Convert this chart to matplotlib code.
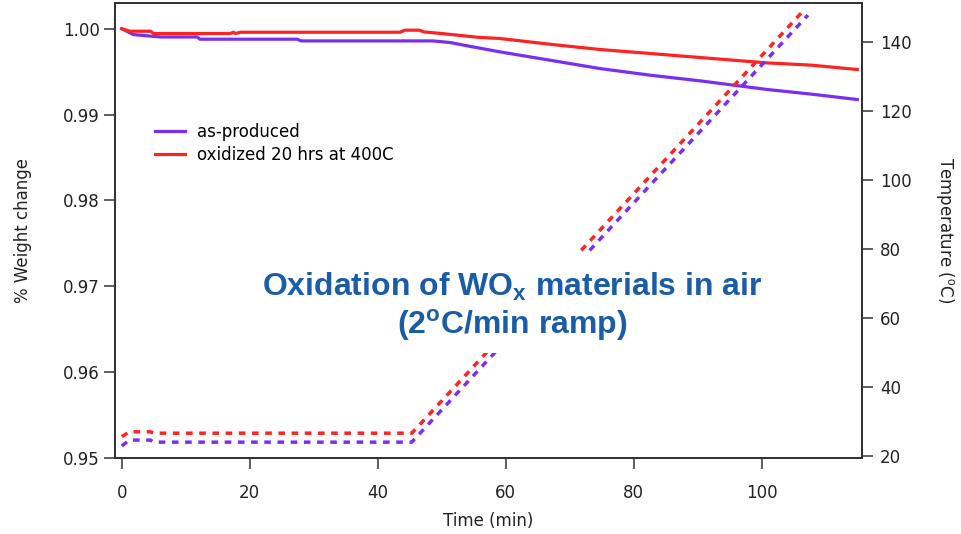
import matplotlib.pyplot as plt
from matplotlib.patches import Rectangle

plt.rcParams['font.family'] = 'DejaVu Sans'
plt.rcParams['mathtext.fontset'] = 'custom'
plt.rcParams['mathtext.rm'] = 'Liberation Sans'
plt.rcParams['mathtext.bf'] = 'Liberation Sans:bold'

# Weight curves (time in min, fractional weight)
t_asprod = [0, 1.0, 1.8, 6, 11.8, 12.2, 27.4, 28, 48.6, 51.3, 54, 59.1, 66.9,
            74.7, 82.6, 90.4, 100.8, 107.8, 114.9]
w_asprod = [1.0000, 0.99963, 0.99932, 0.99904, 0.99904, 0.99878, 0.99878, 0.99858,
            0.99858, 0.99839, 0.9980, 0.9973, 0.99633, 0.99536, 0.99458, 0.99392,
            0.99292, 0.99237, 0.99175]

t_oxid = [0, 1.3, 4.5, 5.0, 17.0, 17.4, 17.8, 18.5, 43.5, 44.2, 46.5, 47.2, 50,
          55.7, 59.1, 66.9, 74.7, 82.6, 90.4, 100.8, 107.8, 114.9]
w_oxid = [1.0000, 0.99971, 0.99971, 0.99944, 0.99944, 0.9996, 0.99944, 0.99959,
          0.99959, 0.99983, 0.99983, 0.99963, 0.99944, 0.9990, 0.99886, 0.99819,
          0.99758, 0.99711, 0.99664, 0.99602, 0.99575, 0.99525]

# Temperature curves (time in min, deg C)
tt_asprod = [0, 1.2, 4.5, 5.0, 45.3, 107.2]
temp_asprod = [22.9, 24.6, 24.6, 24.0, 24.0, 147.7]
tt_oxid = [0, 1.2, 4.5, 5.0, 45.3, 106.6]
temp_oxid = [25.6, 27.0, 27.0, 26.6, 26.6, 149.2]

purple = '#7A2EF0'
red = '#FF2222'
axis_col = '#333333'

fig = plt.figure(figsize=(9.61, 5.34), dpi=100)
ax = fig.add_axes([0.1197, 0.1429, 0.777, 0.8515])
ax2 = ax.twinx()

ax.plot(t_asprod, w_asprod, color=purple, lw=2.3, label='as-produced')
ax.plot(t_oxid, w_oxid, color=red, lw=2.3, label='oxidized 20 hrs at 400C')

ax2.plot(tt_asprod, temp_asprod, color=purple, lw=2.5, dashes=(1.9, 1.9))
ax2.plot(tt_oxid, temp_oxid, color=red, lw=2.5, dashes=(1.9, 1.9))

ax.set_xlim(-1.05, 115.6)
ax.set_ylim(0.95, 1.003)
ax2.set_ylim(19.5, 151.2)

ax.set_xticks([0, 20, 40, 60, 80, 100])
ax.set_yticks([0.95, 0.96, 0.97, 0.98, 0.99, 1.00])
ax.set_yticklabels(['0.95', '0.96', '0.97', '0.98', '0.99', '1.00'])
ax2.set_yticks([20, 40, 60, 80, 100, 120, 140])

for a in (ax, ax2):
    for s in a.spines.values():
        s.set_color(axis_col)
        s.set_linewidth(1.4)
    a.tick_params(direction='out', length=8, width=1.1, color=axis_col,
                  labelsize=12, labelcolor='#222222')
ax.tick_params(axis='x', pad=11)
ax.tick_params(axis='y', pad=3)
ax2.tick_params(axis='y', pad=5)

ax.set_xlabel('Time (min)', fontsize=12, color='#222222', labelpad=7)
ax.set_ylabel('% Weight change', fontsize=12, color='#222222', labelpad=22)
ax2.set_ylabel(r'Temperature ($^{\mathrm{o}}$C)', fontsize=12, color='#222222',
               rotation=270, labelpad=32)

ax.legend(loc='upper left', frameon=False, fontsize=12, handlelength=1.8,
          handletextpad=0.7, labelspacing=0.3, borderpad=0, borderaxespad=0,
          bbox_to_anchor=(155 / 961, 1 - 123 / 534), bbox_transform=fig.transFigure)

# white block behind the annotation hides the dashed ramps there
fig.patches.append(Rectangle((255 / 961, 1 - 353 / 534), 515 / 961, 101 / 534,
                             transform=fig.transFigure, facecolor='white',
                             edgecolor='none', zorder=5))

blue = '#1A5CA8'
fig.text(0.533, 0.4625, r'Oxidation of WO$_{\mathbf{x}}$ materials in air',
         family='Liberation Sans', weight='bold', fontsize=23, color=blue,
         ha='center', va='center', zorder=6)
fig.text(0.533, 0.391, r'(2$^{\mathbf{o}}$C/min ramp)',
         family='Liberation Sans', weight='bold', fontsize=23, color=blue,
         ha='center', va='center', zorder=6)

fig.savefig('out.png', dpi=100)
